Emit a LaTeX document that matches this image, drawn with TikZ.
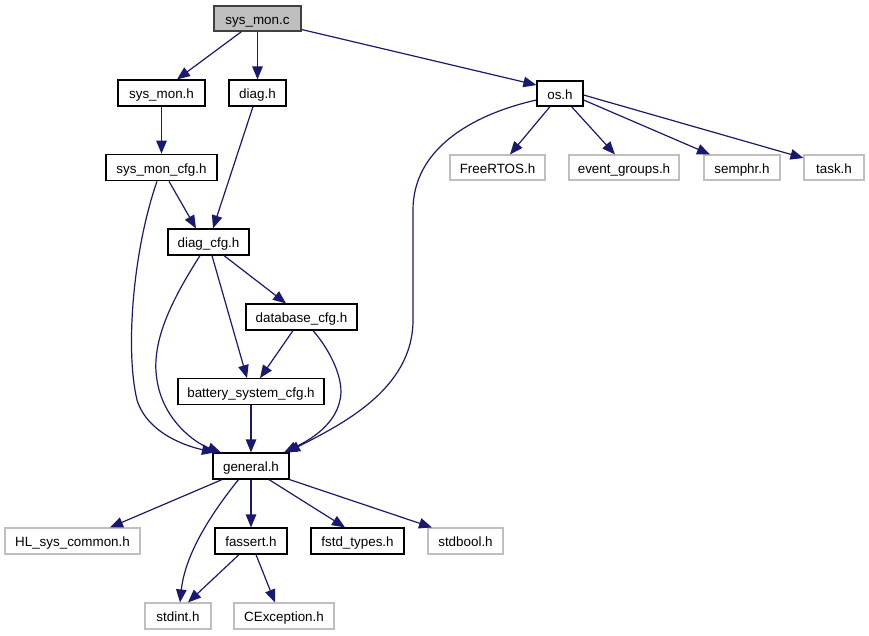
\documentclass[tikz,border=0pt]{standalone}
\usepackage{fontspec}
\setmainfont{Liberation Sans}
\usetikzlibrary{arrows.meta}
\definecolor{edgec}{HTML}{191970}
\definecolor{greyb}{HTML}{BFBFBF}
\definecolor{darkb}{HTML}{404040}
\tikzset{
  basebox/.style={inner sep=0pt, text height=11pt, text depth=0pt, font=\fontsize{13.4}{15}\selectfont},
  hbox/.style={basebox, draw=black, line width=1.2pt, fill=white},
  gbox/.style={basebox, draw=greyb, line width=1.1pt, fill=white},
  rootbox/.style={basebox, draw=darkb, line width=1.2pt, fill=greyb},
  dep/.style={draw=edgec, line width=1.2pt, -{Triangle[length=13pt,width=10.5pt]}},
}
\newcommand{\nd}[6]{\node[#1, minimum width=#4pt, minimum height=#5pt] (#2) at (#3) {#6};}
\begin{document}
\begin{tikzpicture}[x=1pt,y=-1pt]
\useasboundingbox (0,0) rectangle (869,635);
\nd{rootbox}{smc}{257.5,18.5}{87}{25}{sys\_mon.c}
\nd{hbox}{smh}{161.5,93}{87}{26}{sys\_mon.h}
\nd{hbox}{diagh}{257.5,93}{57}{26}{diag.h}
\nd{hbox}{smcfg}{161.5,167.5}{111}{26.5}{sys\_mon\_cfg.h}
\nd{hbox}{osh}{560,93.5}{46}{25}{os.h}
\nd{gbox}{freertos}{497.5,167.5}{95}{25}{FreeRTOS.h}
\nd{gbox}{evg}{624,167.5}{110}{25}{event\_groups.h}
\nd{gbox}{semphr}{742,167.5}{76}{25}{semphr.h}
\nd{gbox}{task}{834,167.5}{60}{25}{task.h}
\nd{hbox}{diagcfg}{208.5,242}{81}{26}{diag\_cfg.h}
\nd{hbox}{dbcfg}{301.5,317}{111}{26}{database\_cfg.h}
\nd{hbox}{bscfg}{251,391.5}{146}{25.5}{battery\_system\_cfg.h}
\nd{hbox}{general}{251,466}{76}{26}{general.h}
\nd{gbox}{hl}{72.5,541}{135}{26}{HL\_sys\_common.h}
\nd{hbox}{fassert}{251,541}{72}{26}{fassert.h}
\nd{hbox}{fstd}{357.5,541}{93}{26}{fstd\_types.h}
\nd{gbox}{stdbool}{465.5,541}{75}{26}{stdbool.h}
\nd{gbox}{stdint}{178,616}{66}{26}{stdint.h}
\nd{gbox}{cexc}{284,616}{100}{26}{CException.h}

\draw[dep] ([xshift=-16pt]smc.south) -- ([xshift=15.5pt]smh.north);
\draw[dep] (smc.south) -- (diagh.north);
\draw[dep] ([yshift=-11pt]smc.east) -- ([yshift=8.5pt]osh.west);
\draw[dep] (smh.south) -- (smcfg.north);
\draw[dep] ([xshift=-4.5pt]diagh.south) -- ([xshift=4.5pt]diagcfg.north);
\draw[dep] ([xshift=7.5pt]smcfg.south) -- ([xshift=-12.5pt]diagcfg.north);
\draw[dep] ([xshift=-4.5pt]smcfg.south) .. controls (133,250) and (125,350) .. (137,400) .. controls (148,435) and (190,447) .. ([xshift=-36pt]general.north);
\draw[dep] ([xshift=-8.5pt]diagcfg.south) .. controls (175,295) and (150,340) .. (157,380) .. controls (163,420) and (195,443) .. ([xshift=-30pt]general.north);
\draw[dep] ([xshift=3.5pt]diagcfg.south) -- ([xshift=-4pt]bscfg.north);
\draw[dep] ([xshift=15.5pt]diagcfg.south) -- ([xshift=-15.5pt]dbcfg.north);
\draw[dep] ([xshift=-8.5pt]dbcfg.south) -- ([xshift=9pt]bscfg.north);
\draw[dep] ([xshift=11.5pt]dbcfg.south) .. controls (330,350) and (345,380) .. (340,400) .. controls (335,425) and (310,440) .. ([xshift=33pt]general.north);
\draw[dep] (bscfg.south) -- (general.north);
\draw[dep] ([yshift=-6.5pt]osh.west) .. controls (470,115) and (413,150) .. (413,210) -- (413,320) .. controls (413,390) and (340,425) .. ([xshift=36pt]general.north);
\draw[dep] ([xshift=-10pt]osh.south) -- ([xshift=12.5pt]freertos.north);
\draw[dep] ([xshift=11.5pt]osh.south) -- ([xshift=-9pt]evg.north);
\draw[dep] ([yshift=-6.5pt]osh.east) -- ([xshift=-32pt]semphr.north);
\draw[dep] ([yshift=-1.5pt]osh.east) -- ([yshift=9.5pt]task.west);
\draw[dep] ([xshift=-29pt]general.south) -- ([xshift=37.5pt]hl.north);
\draw[dep] ([xshift=-12.5pt]general.south) .. controls (210,515) and (185,555) .. ([xshift=2pt]stdint.north);
\draw[dep] (general.south) -- (fassert.north);
\draw[dep] ([xshift=18pt]general.south) -- ([xshift=-12.5pt]fstd.north);
\draw[dep] (general.south east) -- ([xshift=-33.5pt]stdbool.north);
\draw[dep] ([xshift=-12pt]fassert.south) -- ([xshift=10pt]stdint.north);
\draw[dep] ([xshift=5pt]fassert.south) -- ([xshift=-9pt]cexc.north);
\end{tikzpicture}
\end{document}
